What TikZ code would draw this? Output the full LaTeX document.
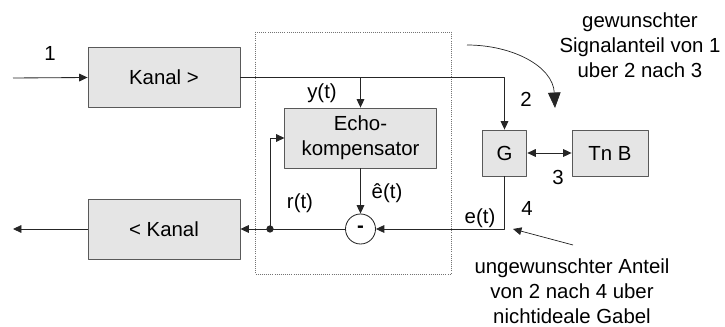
\documentclass[tikz,border=0pt]{standalone}
\usepackage{fontspec}
\setmainfont{Liberation Sans}
\usetikzlibrary{arrows.meta}
\begin{document}
\begin{tikzpicture}[x=0.025cm, y=-0.025cm, >={Triangle[length=6pt,width=5.5pt]}, font=\fontsize{14.5}{17.8}\selectfont, line join=round,
	block/.style={draw=black!65, fill=black!10, line width=0.6pt, inner sep=0pt},
	wire/.style={draw=black!85, line width=0.6pt}]
	\useasboundingbox (0,0) rectangle (725,327);
	\draw[black!55, densely dotted, line width=0.5pt] (255,32) rectangle (451,274);
	\node[block, minimum width=3.8cm, minimum height=1.52cm] (kanalhin) at (164,77.5) {Kanal >};
	\node[block, minimum width=3.8cm, minimum height=1.5cm] (kanalrueck) at (164,229) {< Kanal};
	\node[block, minimum width=3.78cm, minimum height=1.5cm, align=center] (echo) at (360.5,138) {Echo-\\kompensator};
	\node[block, minimum width=1.12cm, minimum height=1.15cm] (gabel) at (504.5,153) {G};
	\node[block, minimum width=1.9cm, minimum height=1.15cm] (tnb) at (610,153) {Tn B};
	\node[circle, draw=black!85, fill=white, line width=0.6pt, minimum size=0.75cm, inner sep=0pt] (diff) at (360.5,229) {\textbf{-}};
	\coordinate (ein) at (13,78);
	\coordinate (aus) at (13,229);
	\coordinate (punkt) at (270,229);
	\draw[wire,->] (ein) -- (kanalhin.west);
	\draw[wire,->] (kanalhin.east) -| (gabel.north);
	\draw[wire,->] (echo.north |- kanalhin.east) -- (echo.north);
	\draw[wire,<->] (gabel.east) -- (tnb.west);
	\draw[wire,->] (gabel.south) |- (diff.east);
	\draw[wire,->] (echo.south) -- (diff.north);
	\draw[wire,->] (diff.west) -- (kanalrueck.east);
	\draw[wire,->] (punkt) |- (echo.west);
	\draw[wire,->] (kanalrueck.west) -- (aus);
	\fill[black!85] (punkt) circle (2.6pt);
	\node (n1) at (50,53) {1};
	\node (n2) at (526,99) {2};
	\node (n3) at (558,177) {3};
	\node (n4) at (527,208) {4};
	\node (yt) at (322,93) {y(t)};
	\node (rt) at (300,203) {r(t)};
	\node (eht) at (387,193) {ê(t)};
	\node (et) at (480,218) {e(t)};
	\coordinate (k1) at (467,45);
	\coordinate (k2) at (555,108);
	\draw[wire, line width=0.5pt, -{Triangle[length=11pt,width=9pt]}] (k1) .. controls (512,45) and (553,66) .. (k2);
	\coordinate (g1) at (573,245);
	\coordinate (g2) at (513,229);
	\draw[wire, line width=0.5pt, ->] (g1) -- (g2);
	\node[align=center] (wunsch) at (640,45) {gewunschter\\Signalanteil von 1\\uber 2 nach 3};
	\node[align=center] (unwunsch) at (572,291) {ungewunschter Anteil\\von 2 nach 4 uber\\nichtideale Gabel};
\end{tikzpicture}
\end{document}
